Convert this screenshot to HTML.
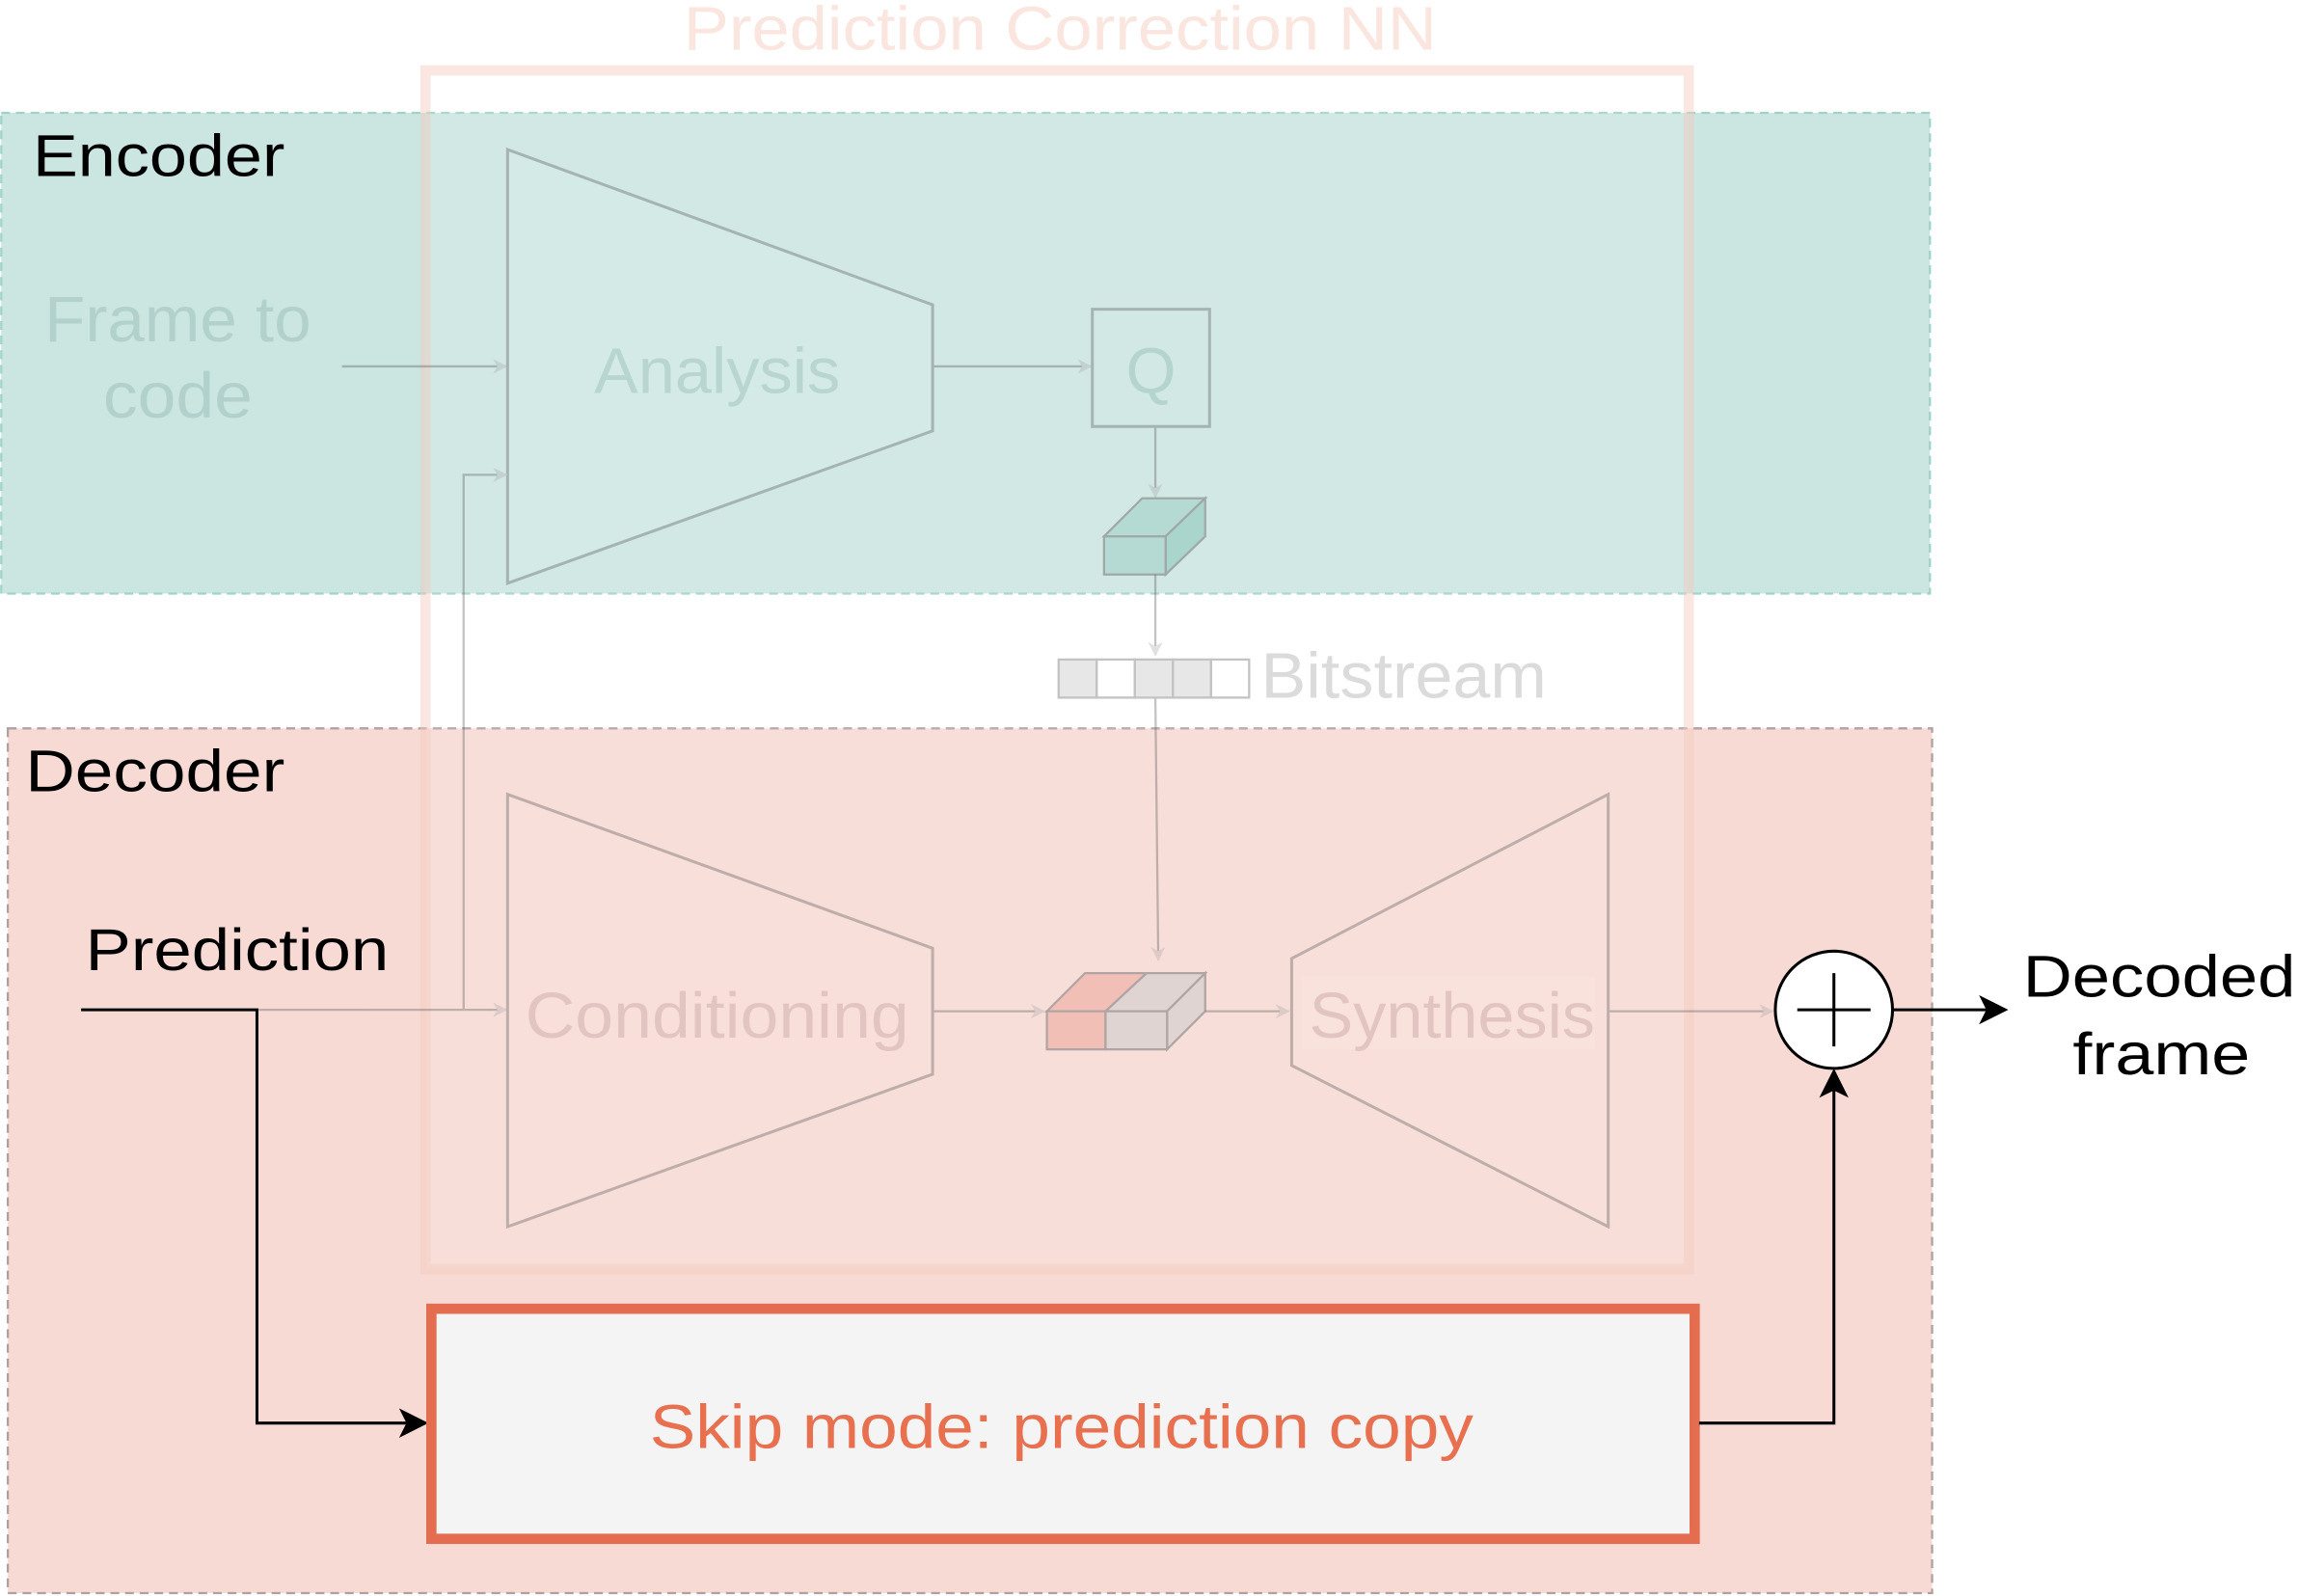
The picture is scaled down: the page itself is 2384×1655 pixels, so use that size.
<!DOCTYPE html>
<html><head><meta charset="utf-8"><style>html,body{margin:0;padding:0;background:#fff}svg{display:block}text{font-family:"Liberation Sans",sans-serif}</style></head>
<body>
<svg width="2384" height="1655" viewBox="0 0 1568 1089" xmlns="http://www.w3.org/2000/svg">
<defs>
<marker id="ag" markerWidth="10" markerHeight="10" refX="9" refY="5" orient="auto" markerUnits="userSpaceOnUse"><path d="M0,0 L10,5 L0,10 L3,5 z" fill="#aaa"/></marker>
<marker id="abig" markerWidth="20" markerHeight="20" refX="18" refY="10" orient="auto" markerUnits="userSpaceOnUse"><path d="M0,0 L20,10 L0,20 L5,10 z" fill="#000"/></marker>
</defs>
<text x="466" y="34" textLength="514" lengthAdjust="spacingAndGlyphs" font-size="42" fill="#fbe5df">Prediction Correction NN</text>
<rect x="0.5" y="77" width="1316" height="328" fill="#cbe5e1" stroke="#9fd3c9" stroke-width="1.5" stroke-dasharray="6,4"/>
<rect x="5" y="497" width="1313" height="590" fill="#f7dad4" stroke="#b0a0a0" stroke-width="1.5" stroke-dasharray="6,4"/>
<rect x="290" y="48" width="862" height="818" fill="#fff" fill-opacity="0.12" stroke="#f3c9bd" stroke-opacity="0.45" stroke-width="7"/>
<text x="22" y="120" textLength="172" lengthAdjust="spacingAndGlyphs" font-size="40" fill="#000">Encoder</text>
<text x="17" y="540" textLength="177" lengthAdjust="spacingAndGlyphs" font-size="40" fill="#000">Decoder</text>
<g opacity="0.35">
<line x1="233" y1="250" x2="345" y2="250" stroke="#555" stroke-width="1.5" marker-end="url(#ag)"/>
<polygon points="346,102 636,208 636,294 346,398" fill="#d8eeea" stroke="#555" stroke-width="2"/>
<line x1="636" y1="250" x2="744" y2="250" stroke="#555" stroke-width="1.5" marker-end="url(#ag)"/>
<rect x="745" y="211" width="80" height="80" fill="none" stroke="#555" stroke-width="2"/>
<line x1="788" y1="291" x2="788" y2="339" stroke="#555" stroke-width="1.5" marker-end="url(#ag)"/>
<line x1="788" y1="392" x2="788" y2="447" stroke="#555" stroke-width="1.5" marker-end="url(#ag)"/>
<rect x="722" y="450" width="26" height="26" fill="#bbb" stroke="#555" stroke-width="1.5"/>
<rect x="748" y="450" width="26" height="26" fill="#fff" stroke="#555" stroke-width="1.5"/>
<rect x="774" y="450" width="26" height="26" fill="#bbb" stroke="#555" stroke-width="1.5"/>
<rect x="800" y="450" width="26" height="26" fill="#bbb" stroke="#555" stroke-width="1.5"/>
<rect x="826" y="450" width="26" height="26" fill="#fff" stroke="#555" stroke-width="1.5"/>
<text x="860" y="476" textLength="195" lengthAdjust="spacingAndGlyphs" font-size="44" fill="#999">Bitstream</text>
<line x1="788" y1="476" x2="790" y2="655" stroke="#555" stroke-width="1.5" marker-end="url(#ag)"/>
<polyline points="175,689 316,689" fill="none" stroke="#555" stroke-width="1.5"/>
<line x1="316" y1="689" x2="345" y2="689" stroke="#555" stroke-width="1.5" marker-end="url(#ag)"/>
<polyline points="316,689 316,324 345,324" fill="none" stroke="#555" stroke-width="1.5" marker-end="url(#ag)"/>
<polygon points="346,542 636,647 636,733 346,837" fill="#f9e3de" stroke="#555" stroke-width="2"/>
<text x="358" y="708" textLength="262" lengthAdjust="spacingAndGlyphs" font-size="44" fill="#b99">Conditioning</text>
<line x1="636" y1="690" x2="712" y2="690" stroke="#555" stroke-width="1.5" marker-end="url(#ag)"/>
<line x1="822" y1="690" x2="879" y2="690" stroke="#555" stroke-width="1.5" marker-end="url(#ag)"/>
<polygon points="1097,542 881,654 881,727 1097,837" fill="#f9e3de" stroke="#555" stroke-width="2"/>
<rect x="888" y="666" width="200" height="50" fill="#fbe8e4"/>
<text x="893" y="708" textLength="195" lengthAdjust="spacingAndGlyphs" font-size="44" fill="#b99">Synthesis</text>
<line x1="1097" y1="690" x2="1209" y2="690" stroke="#555" stroke-width="1.5" marker-end="url(#ag)"/>
</g>
<g opacity="0.25">
<text x="30" y="233" textLength="182" lengthAdjust="spacingAndGlyphs" font-size="44" fill="#6a9a92">Frame to</text>
<text x="70" y="285" textLength="102" lengthAdjust="spacingAndGlyphs" font-size="44" fill="#6a9a92">code</text>
<text x="405" y="268" textLength="168" lengthAdjust="spacingAndGlyphs" font-size="44" fill="#6a9a92">Analysis</text>
<text x="785" y="268" text-anchor="middle" font-size="44" fill="#6a9a92">Q</text>
</g>
<g opacity="0.55" stroke="#777" stroke-width="1.5">
<polygon points="753,366 779,340 822,340 795,366" fill="#9fd0c6"/>
<polygon points="795,366 822,340 822,366 795,392" fill="#8cc6bb"/>
<rect x="753" y="366" width="42" height="26" fill="#9fd0c6"/>
<polygon points="714,690 740,664 782,664 754,690" fill="#eea69a"/>
<polygon points="754,690 782,664 822,664 796,690" fill="#ccc"/>
<polygon points="796,690 822,664 822,690 796,716" fill="#ccc"/>
<rect x="714" y="690" width="40" height="26" fill="#eea69a"/>
<rect x="754" y="690" width="42" height="26" fill="#ccc"/>
</g>
<text x="58" y="662" textLength="207" lengthAdjust="spacingAndGlyphs" font-size="40" fill="#000">Prediction</text>
<line x1="55" y1="689" x2="176" y2="689" stroke="#000" stroke-width="2"/>
<polyline points="175,689 175,971 290,971" fill="none" stroke="#000" stroke-width="2" marker-end="url(#abig)"/>
<rect x="294" y="893" width="862" height="157" fill="#f4f4f4" stroke="#e46c4f" stroke-width="7"/>
<text x="443" y="988" textLength="562" lengthAdjust="spacingAndGlyphs" font-size="42" fill="#e8704f">Skip mode: prediction copy</text>
<polyline points="1159,971 1251,971 1251,731" fill="none" stroke="#000" stroke-width="2" marker-end="url(#abig)"/>
<circle cx="1251" cy="689" r="40" fill="#fff" stroke="#000" stroke-width="2"/>
<line x1="1251" y1="664" x2="1251" y2="714" stroke="#000" stroke-width="2"/>
<line x1="1226" y1="689" x2="1276" y2="689" stroke="#000" stroke-width="2"/>
<line x1="1291" y1="689" x2="1368" y2="689" stroke="#000" stroke-width="2" marker-end="url(#abig)"/>
<text x="1380" y="680" textLength="186" lengthAdjust="spacingAndGlyphs" font-size="40" fill="#000">Decoded</text>
<text x="1414" y="733" textLength="121" lengthAdjust="spacingAndGlyphs" font-size="40" fill="#000">frame</text>
</svg>
</body></html>
